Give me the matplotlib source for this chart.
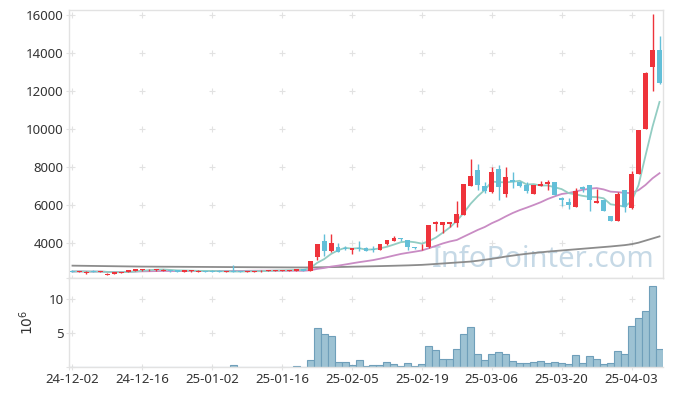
import numpy as np
import pandas as pd
import matplotlib
matplotlib.use("Agg")
import matplotlib.pyplot as plt

# daily OHLC, 85 trading days from 24-12-02 to 25-04-09
opens = [2540, 2470, 2400, 2540, 2480, 2300, 2350, 2400, 2470, 2530,
         2550, 2560, 2550, 2510, 2560, 2550, 2480, 2500, 2490, 2530,
         2540, 2530, 2480, 2540, 2530, 2480, 2480, 2500, 2520, 2520,
         2520, 2530, 2530, 2630, 2530, 3280, 4100, 3550, 3800, 3720,
         3600, 3720, 3720, 3700, 3620, 3930, 4120, 4250, 4160, 3760,
         3760, 3760, 4990, 4960, 4990, 5040, 5460, 7020, 7840, 7020,
         6670, 7880, 6560, 7300, 7180, 7050, 6580, 7020, 7100, 7220,
         6370, 6170, 5910, 6950, 7050, 6120, 6260, 5420, 5160, 6790,
         5830, 7620, 10000, 13280, 14160]
highs = [2560, 2520, 2500, 2550, 2530, 2390, 2450, 2490, 2560, 2610,
         2610, 2600, 2610, 2600, 2580, 2560, 2570, 2570, 2550, 2540,
         2550, 2545, 2530, 2840, 2540, 2530, 2530, 2550, 2570, 2570,
         2570, 2580, 2640, 2650, 3050, 3950, 4460, 4450, 3980, 3850,
         3740, 4100, 3800, 3860, 3960, 4170, 4340, 4260, 4160, 3780,
         3960, 4950, 5170, 5120, 5120, 6230, 7110, 8400, 8160, 7200,
         8020, 8110, 7980, 7730, 7280, 7200, 7050, 7260, 7330, 7230,
         6420, 6340, 6880, 7000, 7050, 6830, 6260, 5420, 6700, 6800,
         7760, 9950, 12970, 16030, 14900]
lows = [2480, 2450, 2370, 2460, 2440, 2290, 2340, 2390, 2460, 2520,
        2540, 2540, 2540, 2500, 2490, 2470, 2470, 2490, 2480, 2480,
        2470, 2470, 2470, 2470, 2470, 2470, 2470, 2490, 2510, 2510,
        2510, 2520, 2520, 2520, 2520, 3100, 3320, 3530, 3500, 3600,
        3420, 3550, 3570, 3500, 3600, 3900, 4100, 4100, 3650, 3700,
        3650, 3740, 4600, 4510, 4860, 4860, 5450, 7000, 6790, 6600,
        6650, 6260, 6420, 6870, 6950, 6630, 6570, 6990, 6800, 6520,
        5950, 5790, 5900, 6700, 5700, 6100, 5680, 5160, 5150, 5630,
        5780, 7600, 9990, 12000, 12350]
closes = [2490, 2510, 2470, 2480, 2495, 2380, 2440, 2480, 2550, 2600,
          2600, 2590, 2600, 2590, 2500, 2480, 2560, 2550, 2540, 2490,
          2480, 2480, 2520, 2490, 2480, 2520, 2525, 2540, 2560, 2560,
          2560, 2570, 2630, 2540, 3040, 3950, 3550, 4000, 3510, 3680,
          3740, 3690, 3580, 3600, 3950, 4150, 4280, 4200, 3800, 3730,
          3790, 4950, 5120, 5100, 5100, 5530, 7100, 7520, 7040, 6750,
          7720, 6960, 7460, 7200, 7000, 6750, 7050, 7100, 7210, 6530,
          6260, 6000, 6750, 6830, 6260, 6210, 5690, 5160, 6580, 5880,
          7630, 9950, 12960, 14160, 12400]
# volume, millions of shares
volumes = [0.05, 0.04, 0.06, 0.04, 0.03, 0.05, 0.06, 0.05, 0.04, 0.05,
           0.04, 0.03, 0.04, 0.05, 0.04, 0.03, 0.04, 0.03, 0.03, 0.04,
           0.03, 0.04, 0.05, 0.25, 0.04, 0.03, 0.04, 0.03, 0.04, 0.05,
           0.04, 0.05, 0.08, 0.06, 1.07, 5.7, 4.9, 4.55, 0.74, 0.74,
           0.3, 1.07, 0.15, 0.3, 0.3, 0.74, 0.45, 0.15, 0.6, 0.15,
           0.45, 3.1, 2.5, 1.17, 1.17, 2.65, 4.85, 5.9, 1.9, 1.03,
           1.9, 2.2, 1.9, 0.88, 0.6, 0.6, 0.74, 0.88, 0.6, 0.74,
           0.6, 0.45, 1.76, 0.6, 1.6, 1.17, 0.45, 0.6, 2.35, 1.9,
           6.03, 7.2, 8.24, 11.9, 2.65]
# long moving average (gray)
ma_long = [2800, 2795, 2790, 2785, 2780, 2775, 2770, 2765, 2760, 2755,
           2750, 2748, 2746, 2744, 2742, 2740, 2738, 2736, 2734, 2732,
           2730, 2728, 2726, 2724, 2722, 2720, 2718, 2716, 2714, 2712,
           2710, 2708, 2706, 2705, 2705, 2712, 2718, 2724, 2728, 2735,
           2745, 2752, 2760, 2768, 2776, 2785, 2795, 2805, 2815, 2828,
           2842, 2865, 2890, 2915, 2940, 2965, 2990, 3016, 3060, 3110,
           3160, 3215, 3280, 3330, 3380, 3425, 3465, 3500, 3540, 3570,
           3600, 3630, 3660, 3690, 3720, 3750, 3780, 3810, 3845, 3880,
           3930, 4010, 4120, 4230, 4340]
tick_labels = ["24-12-02", "24-12-16", "25-01-02", "25-01-16", "25-02-05",
               "25-02-19", "25-03-06", "25-03-20", "25-04-03"]
price_ticks = [4000, 6000, 8000, 10000, 12000, 14000, 16000]
volume_ticks = [5, 10]

UP = "#ee333b"
DOWN = "#63bfd8"
GRID = "#e2e2e2"
SPINE = "#e2e2e2"

plt.rcParams["font.family"] = ["Noto Sans", "DejaVu Sans"]

x = np.arange(len(closes))
o = np.array(opens, dtype=float)
c = np.array(closes, dtype=float)
close_s = pd.Series(c)
ma5 = close_s.rolling(5, min_periods=1).mean()
ma20 = close_s.rolling(20, min_periods=1).mean()
tick_pos = np.arange(0, len(closes), 10)[:len(tick_labels)]

fig = plt.figure(figsize=(6.73, 3.96), dpi=100)
ax = fig.add_axes([69 / 673, 1 - 278 / 396, 594 / 673, 268 / 396])
axv = fig.add_axes([69 / 673, 1 - 367 / 396, 594 / 673, 89 / 396], sharex=ax)

ylo, yhi = 2150, 16260
vhi = 13.1
xlo, xhi = -0.5, len(closes) - 0.5

# watermark
ax.text(655 / 673, 1 - 267 / 396, "InfoPointer.com", transform=fig.transFigure,
        ha="right", va="baseline", fontsize=21, color="#c6d9e6", zorder=0)

# grid crosses at tick intersections
gx, gy = np.meshgrid(np.append(tick_pos, xlo), np.append(price_ticks, ylo))
ax.scatter(gx.ravel(), gy.ravel(), marker="+", s=18, color=GRID,
           linewidths=0.8, clip_on=False, zorder=1)
gx, gy = np.meshgrid(np.append(tick_pos, xlo), np.append(volume_ticks, 0))
axv.scatter(gx.ravel(), gy.ravel(), marker="+", s=18, color=GRID,
            linewidths=0.8, clip_on=False, zorder=1)

# moving averages
ax.plot(x, ma_long, color="#8c8c8c", lw=1.3, zorder=2)
ax.plot(x, ma20, color="#c98cc4", lw=1.3, zorder=2)
ax.plot(x, ma5, color="#93cdc3", lw=1.3, zorder=2)

# candles
colors = [UP if cc >= oo else DOWN for oo, cc in zip(o, c)]
ax.vlines(x, lows, highs, colors=colors, lw=1.0, zorder=3)
body = np.maximum(np.abs(c - o), 25)
ax.bar(x, body, bottom=np.minimum(o, c), width=0.7, color=colors,
       linewidth=0, zorder=4)

# volume
axv.bar(x, volumes, width=1.0, color="#9dc2d3", edgecolor="#6f9fba",
        linewidth=0.8, zorder=2)

ax.set_xlim(xlo, xhi)
ax.set_ylim(ylo, yhi)
axv.set_ylim(0, vhi)

ax.set_yticks(price_ticks)
axv.set_yticks(volume_ticks)
axv.set_xticks(tick_pos)
axv.set_xticklabels(tick_labels)
ax.tick_params(axis="x", labelbottom=False, length=0)
for a in (ax, axv):
    a.tick_params(axis="both", length=0, labelsize=9.5, colors="#333333", pad=4)
    for s in a.spines.values():
        s.set_color(SPINE)
        s.set_linewidth(1.0)
axv.spines["right"].set_visible(False)
axv.set_ylabel("$10^6$", fontsize=10, color="#333333", labelpad=8)

fig.savefig("out.png", dpi=100)
